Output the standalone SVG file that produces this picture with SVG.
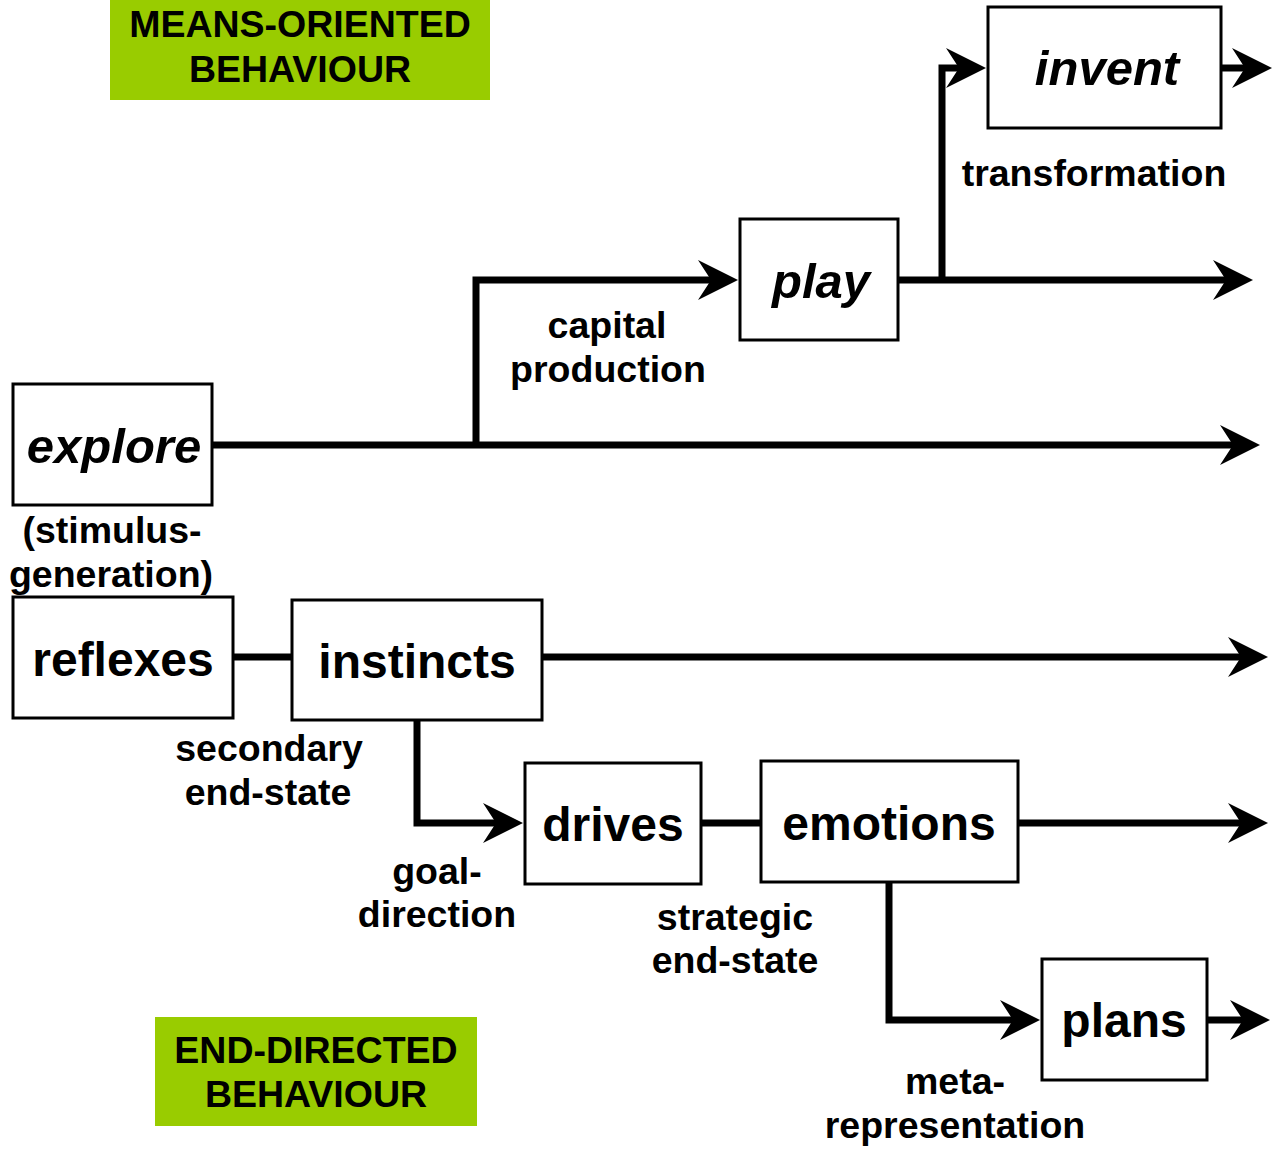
<svg xmlns="http://www.w3.org/2000/svg" width="1274" height="1151" viewBox="0 0 1274 1151">
  <style>
    .box { fill: #ffffff; stroke: #000000; stroke-width: 3; }
    .band { fill: #99cc00; }
    .wire { fill: none; stroke: #000000; stroke-width: 7; stroke-linejoin: miter; }
    .arrow { fill: none; stroke: #000000; stroke-width: 7; marker-end: url(#head); }
    text { font-family: "Liberation Sans", Arial, sans-serif; font-weight: bold; fill: #000000; text-anchor: middle; }
    .node { font-size: 48px; }
    .ital { font-style: italic; font-size: 49px; }
    .lbl { font-size: 37.5px; }
    .cat { font-size: 37.5px; }
  </style>
  <defs>
    <marker id="head" markerUnits="userSpaceOnUse" viewBox="0 0 40 40" markerWidth="40" markerHeight="40" refX="13" refY="20" orient="auto">
      <path d="M0,0 L40,20 L0,40 L13,20 Z" fill="#000000"/>
    </marker>
  </defs>

  <!-- category banners -->
  <g id="means-oriented">
    <rect class="band" x="110" y="0" width="380" height="100"/>
    <text class="cat" x="300" y="37">MEANS-ORIENTED</text>
    <text class="cat" x="300" y="82">BEHAVIOUR</text>
  </g>
  <g id="end-directed">
    <rect class="band" x="155" y="1017" width="322" height="109"/>
    <text class="cat" x="316" y="1063">END-DIRECTED</text>
    <text class="cat" x="316" y="1107">BEHAVIOUR</text>
  </g>

  <!-- connectors -->
  <g id="connectors">
    <path class="arrow" d="M212,445 H1233"/>
    <path class="arrow" d="M476,445 V280 H711"/>
    <path class="arrow" d="M898,280 H1226"/>
    <path class="arrow" d="M942,280 V68 H959"/>
    <path class="arrow" d="M1221,68 H1245"/>
    <path class="wire" d="M233,657 H292"/>
    <path class="arrow" d="M542,657 H1241"/>
    <path class="arrow" d="M417,720 V823 H496"/>
    <path class="wire" d="M701,823 H761"/>
    <path class="arrow" d="M1018,823 H1241"/>
    <path class="arrow" d="M889,882 V1020 H1013"/>
    <path class="arrow" d="M1207,1020 H1243"/>
  </g>

  <!-- nodes -->
  <g id="invent">
    <rect class="box" x="988" y="7" width="233" height="121"/>
    <text class="ital" x="1107" y="85">invent</text>
  </g>
  <g id="play">
    <rect class="box" x="740" y="219" width="158" height="121"/>
    <text class="ital" x="821" y="298">play</text>
  </g>
  <g id="explore">
    <rect class="box" x="13" y="384" width="199" height="121"/>
    <text class="ital" x="114" y="463">explore</text>
  </g>
  <g id="reflexes">
    <rect class="box" x="13" y="597" width="220" height="121"/>
    <text class="node" x="123" y="676">reflexes</text>
  </g>
  <g id="instincts">
    <rect class="box" x="292" y="600" width="250" height="120"/>
    <text class="node" x="417" y="678">instincts</text>
  </g>
  <g id="drives">
    <rect class="box" x="525" y="763" width="176" height="121"/>
    <text class="node" x="613" y="841">drives</text>
  </g>
  <g id="emotions">
    <rect class="box" x="761" y="761" width="257" height="121"/>
    <text class="node" x="889" y="840">emotions</text>
  </g>
  <g id="plans">
    <rect class="box" x="1042" y="959" width="165" height="121"/>
    <text class="node" x="1124" y="1037">plans</text>
  </g>

  <!-- transition labels -->
  <g id="labels">
    <text class="lbl" x="1094" y="186">transformation</text>
    <text class="lbl" x="607" y="338">capital</text>
    <text class="lbl" x="608" y="382">production</text>
    <text class="lbl" x="112" y="543">(stimulus-</text>
    <text class="lbl" x="111" y="587">generation)</text>
    <text class="lbl" x="269" y="761">secondary</text>
    <text class="lbl" x="268" y="805">end-state</text>
    <text class="lbl" x="437" y="884">goal-</text>
    <text class="lbl" x="437" y="927">direction</text>
    <text class="lbl" x="735" y="930">strategic</text>
    <text class="lbl" x="735" y="973">end-state</text>
    <text class="lbl" x="955" y="1094">meta-</text>
    <text class="lbl" x="955" y="1138">representation</text>
  </g>
</svg>
